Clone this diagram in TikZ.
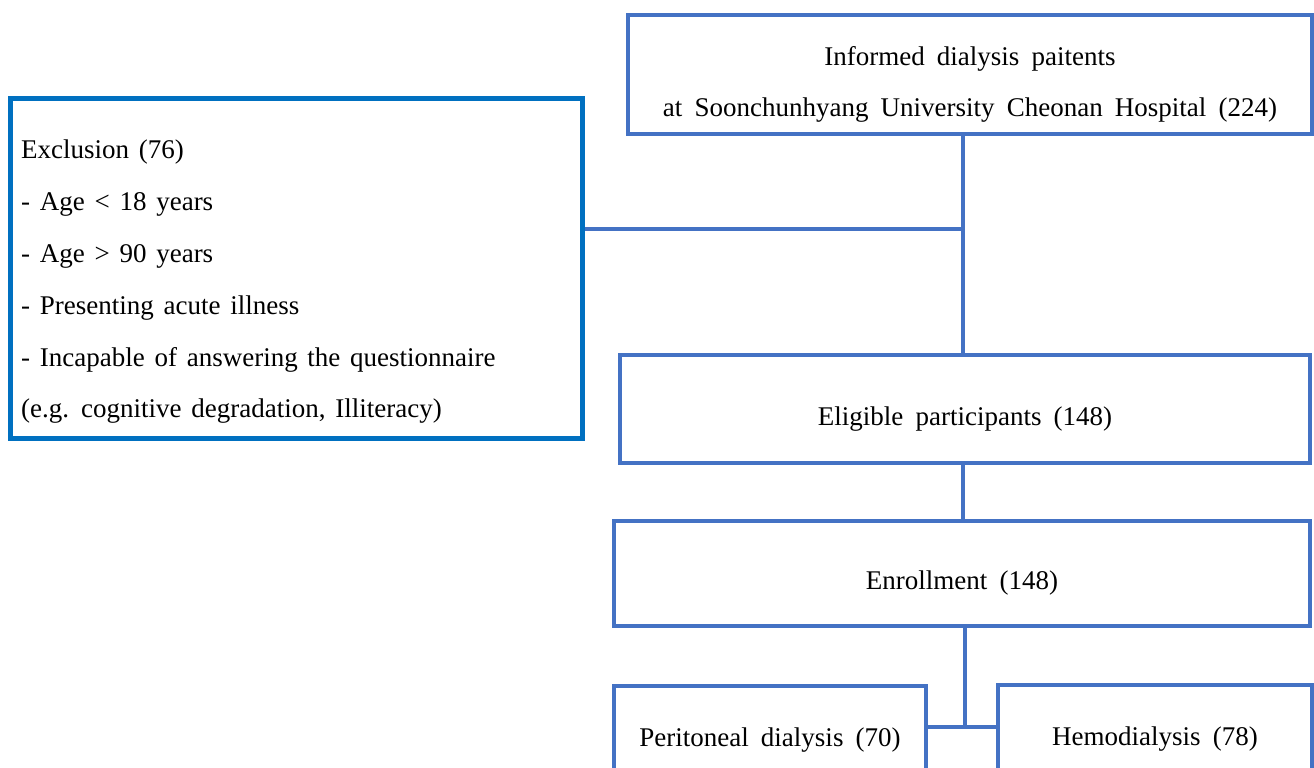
\documentclass[tikz,border=0pt]{standalone}
\usepackage{fontspec}
\setmainfont{Liberation Serif}
\definecolor{boxblue}{RGB}{68,114,196}
\definecolor{exblue}{RGB}{0,112,192}
\begin{document}
\begin{tikzpicture}[x=1pt,y=-1pt,
  flowbox/.style={draw=boxblue, line width=4.5pt, inner sep=0pt},
  exbox/.style={draw=exblue, line width=5pt, inner sep=0pt},
  boxtext/.style={inner sep=0pt, align=center,
    font={\fontsize{27}{50.5}\selectfont\spaceskip=0.45em plus 0.1em\relax}},
  extext/.style={inner sep=0pt, align=left, anchor=west,
    font={\fontsize{27}{51.8}\selectfont\spaceskip=0.36em plus 0.1em\relax}},
  conn/.style={draw=boxblue, line width=4.5pt}]
\useasboundingbox (0,0) rectangle (1314,768);
\fill[white] (0,0) rectangle (1314,768);
\clip (0,0) rectangle (1314,768);
% boxes
\node[flowbox, minimum width=684pt, minimum height=119pt] (top) at (970,74.5) {};
\node[exbox, minimum width=572pt, minimum height=340pt] (excl) at (296,268) {};
\node[flowbox, minimum width=690pt, minimum height=108pt] (elig) at (965,409) {};
\node[flowbox, minimum width=696pt, minimum height=105pt] (enr) at (962,573.5) {};
\node[flowbox, minimum width=312pt, minimum height=108pt] (peri) at (770,740) {};
\node[flowbox, minimum width=314pt, minimum height=108pt] (hemo) at (1155,739) {};
% texts
\node[boxtext] (topt) at ([yshift=-10pt]top.center)
  {Informed dialysis paitents\\at Soonchunhyang University Cheonan Hospital (224)};
\node[extext] (exclt) at ([xshift=13.5pt,yshift=-14pt]excl.west)
  {Exclusion (76)\\- Age < 18 years\\- Age > 90 years\\- Presenting acute illness\\- Incapable of answering the questionnaire\\(e.g. cognitive degradation, Illiteracy)};
\node[boxtext] (eligt) at ([yshift=-10pt]elig.center) {Eligible participants (148)};
\node[boxtext] (enrt) at ([yshift=-10pt]enr.center) {Enrollment (148)};
\node[boxtext] (perit) at (peri.center) {Peritoneal dialysis (70)};
\node[boxtext] (hemot) at (hemo.center) {Hemodialysis (78)};
% connectors
\coordinate (j1) at (963,229);
\coordinate (j2) at (965,727);
\draw[conn] (top.south -| j1) -- (j1) -- (elig.north -| j1);
\draw[conn] (excl.east |- j1) -- (j1);
\draw[conn] (elig.south -| j1) -- (enr.north -| j1);
\draw[conn] (enr.south -| j2) -- (j2);
\draw[conn] (peri.east |- j2) -- (hemo.west |- j2);
\end{tikzpicture}
\end{document}
